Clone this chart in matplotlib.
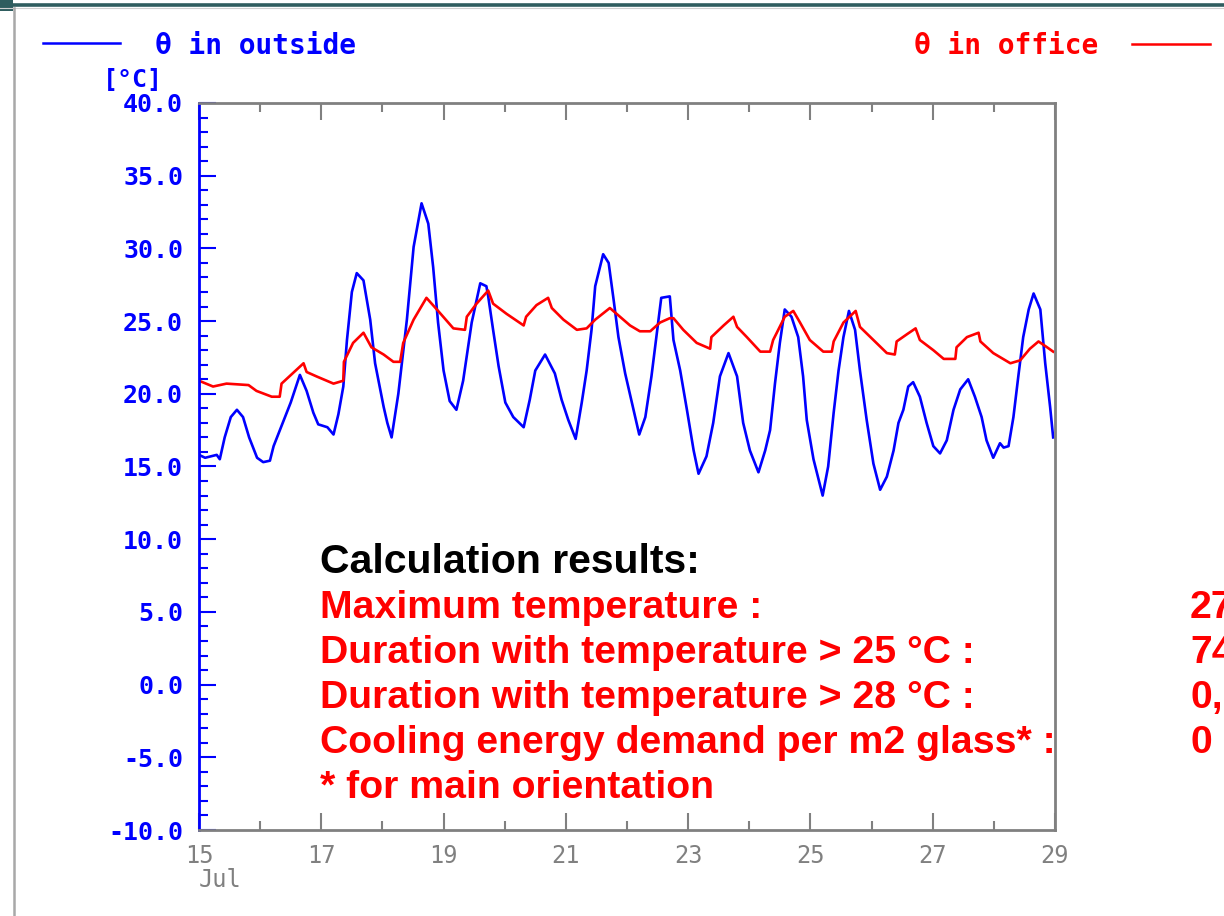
import matplotlib
matplotlib.use('Agg')
import matplotlib.pyplot as plt
from matplotlib.lines import Line2D
from matplotlib.patches import Rectangle
from matplotlib.ticker import MultipleLocator, FormatStrFormatter

plt.rcParams['font.family'] = ['DejaVu Sans Mono', 'DejaVu Sans']
plt.rcParams['axes.unicode_minus'] = False

BLUE = '#0000ff'
RED = '#ff0000'
GRAY = '#808080'

# outside temperature (day of July, degC), turning points
out_days = [15.00, 15.10, 15.29, 15.34, 15.42, 15.52, 15.62, 15.72, 15.82, 15.95,
            16.05, 16.16, 16.22, 16.35, 16.50, 16.65, 16.76, 16.87, 16.95, 17.10,
            17.20, 17.28, 17.36, 17.42, 17.50, 17.58, 17.69, 17.80, 17.88, 18.02,
            18.08, 18.15, 18.26, 18.40, 18.51, 18.64, 18.75, 18.83, 18.91, 19.00,
            19.10, 19.21, 19.32, 19.46, 19.60, 19.70, 19.73, 19.81, 19.90, 20.01,
            20.14, 20.31, 20.41, 20.50, 20.66, 20.82, 20.93, 21.04, 21.16, 21.26,
            21.34, 21.42, 21.48, 21.61, 21.70, 21.78, 21.86, 21.97, 22.08, 22.20,
            22.30, 22.40, 22.48, 22.56, 22.70, 22.76, 22.87, 22.98, 23.09, 23.17,
            23.30, 23.41, 23.52, 23.66, 23.80, 23.90, 24.01, 24.15, 24.26, 24.34,
            24.42, 24.50, 24.58, 24.69, 24.80, 24.88, 24.94, 25.05, 25.20, 25.29,
            25.38, 25.46, 25.54, 25.63, 25.73, 25.81, 25.92, 26.03, 26.14, 26.25,
            26.36, 26.44, 26.52, 26.60, 26.68, 26.79, 26.90, 27.01, 27.12, 27.23,
            27.34, 27.45, 27.58, 27.69, 27.80, 27.88, 27.99, 28.10, 28.16, 28.24,
            28.32, 28.40, 28.48, 28.57, 28.65, 28.76, 28.84, 28.92, 28.97]
out_temp = [15.8, 15.6, 15.8, 15.5, 17.0, 18.4, 18.9, 18.4, 17.0, 15.6,
            15.3, 15.4, 16.4, 17.8, 19.4, 21.3, 20.2, 18.7, 17.9, 17.7,
            17.2, 18.6, 20.5, 23.7, 27.0, 28.3, 27.8, 25.1, 22.1, 19.1,
            18.0, 17.0, 20.0, 25.1, 30.1, 33.1, 31.7, 28.7, 24.9, 21.6,
            19.5, 18.9, 20.9, 24.9, 27.6, 27.4, 26.7, 24.4, 21.9, 19.4,
            18.4, 17.7, 19.6, 21.6, 22.7, 21.4, 19.6, 18.2, 16.9, 19.4,
            21.6, 24.4, 27.4, 29.6, 29.0, 26.5, 23.9, 21.4, 19.4, 17.2,
            18.4, 21.2, 23.9, 26.6, 26.7, 23.7, 21.6, 18.9, 16.1, 14.5,
            15.7, 18.0, 21.2, 22.8, 21.2, 18.0, 16.1, 14.6, 16.1, 17.5,
            20.7, 23.5, 25.8, 25.3, 23.9, 21.2, 18.2, 15.5, 13.0, 15.0,
            18.7, 21.6, 23.9, 25.7, 24.4, 21.6, 18.2, 15.2, 13.4, 14.3,
            16.1, 18.0, 18.9, 20.5, 20.8, 19.8, 18.0, 16.4, 15.9, 16.8,
            18.9, 20.3, 21.0, 19.8, 18.4, 16.8, 15.6, 16.6, 16.3, 16.4,
            18.4, 21.2, 23.9, 25.8, 26.9, 25.8, 22.1, 19.1, 17.0]

# office temperature
off_days = [15.00, 15.23, 15.45, 15.81, 15.94, 16.19, 16.32, 16.35, 16.71, 16.76,
            16.92, 17.20, 17.36, 17.37, 17.52, 17.69, 17.82, 18.02, 18.18, 18.29,
            18.34, 18.51, 18.72, 18.89, 19.16, 19.35, 19.38, 19.54, 19.73, 19.81,
            20.03, 20.31, 20.35, 20.52, 20.71, 20.77, 20.96, 21.18, 21.34, 21.48,
            21.72, 21.83, 22.05, 22.21, 22.38, 22.54, 22.70, 22.76, 22.92, 23.14,
            23.36, 23.38, 23.58, 23.74, 23.80, 23.96, 24.18, 24.34, 24.39, 24.45,
            24.58, 24.72, 24.83, 24.99, 25.21, 25.35, 25.38, 25.54, 25.74, 25.81,
            26.03, 26.25, 26.38, 26.41, 26.58, 26.72, 26.79, 27.01, 27.18, 27.37,
            27.39, 27.56, 27.75, 27.78, 27.99, 28.27, 28.43, 28.59, 28.73, 28.87,
            28.97]
off_temp = [20.9, 20.5, 20.7, 20.6, 20.2, 19.8, 19.8, 20.7, 22.1, 21.5,
            21.2, 20.7, 20.9, 22.2, 23.5, 24.2, 23.2, 22.7, 22.2, 22.2,
            23.5, 25.1, 26.6, 25.8, 24.5, 24.4, 25.3, 26.2, 27.1, 26.2,
            25.5, 24.7, 25.3, 26.1, 26.6, 25.9, 25.1, 24.4, 24.5, 25.1,
            25.9, 25.5, 24.7, 24.3, 24.3, 24.9, 25.2, 25.2, 24.4, 23.5,
            23.1, 23.9, 24.7, 25.3, 24.6, 23.9, 22.9, 22.9, 23.7, 24.2,
            25.3, 25.7, 24.9, 23.7, 22.9, 22.9, 23.6, 24.9, 25.7, 24.6,
            23.7, 22.8, 22.7, 23.6, 24.1, 24.5, 23.7, 23.0, 22.4, 22.4,
            23.2, 23.9, 24.2, 23.6, 22.8, 22.1, 22.3, 23.1, 23.6, 23.2,
            22.9]

x_ticks = [15, 17, 19, 21, 23, 25, 27, 29]
x_labels = ['15', '17', '19', '21', '23', '25', '27', '29']

result_labels = ['Maximum temperature :',
                 'Duration with temperature > 25 °C :',
                 'Duration with temperature > 28 °C :',
                 'Cooling energy demand per m2 glass* :']
# only the first characters are visible, the rest runs off the slide
result_values = ['27', '74', '0,', '0']

W, H = 1224, 916


def fx(px):
    return px / W


def fy(py):
    return 1 - py / H


fig = plt.figure(figsize=(W / 100, H / 100), dpi=100)
fig.patch.set_facecolor('white')

# slide frame bits
fig.add_artist(Line2D([0, 1], [fy(4.5), fy(4.5)], color='#2f5d5f', lw=2.6))
fig.add_artist(Line2D([0, 1], [fy(7.5), fy(7.5)], color='#d0d0d0', lw=0.8))
fig.add_artist(Rectangle((0, fy(11)), fx(13), 11 / H, color='#2f5d5f', lw=0))
fig.add_artist(Line2D([fx(13.5), fx(13.5)], [0, fy(8)], color='#a8a8a8', lw=1.8))

ax = fig.add_axes([fx(199), fy(830), (1055 - 199) / W, (830 - 103) / H])
ax.plot(out_days, out_temp, color=BLUE, lw=1.9)
ax.plot(off_days, off_temp, color=RED, lw=1.9)

ax.set_xlim(15, 29)
ax.set_ylim(-10, 40)
ax.set_xticks(x_ticks)
ax.set_xticklabels(x_labels)
ax.xaxis.set_minor_locator(MultipleLocator(1))
ax.yaxis.set_major_locator(MultipleLocator(5))
ax.yaxis.set_minor_locator(MultipleLocator(1))
ax.yaxis.set_major_formatter(FormatStrFormatter('%.1f'))

ax.tick_params(axis='x', which='both', direction='in', top=True, bottom=True,
               color=GRAY, labelcolor=GRAY, width=1.5)
ax.tick_params(axis='x', which='major', length=12, pad=10, labelsize=17)
ax.tick_params(axis='x', which='minor', length=6.5)
ax.tick_params(axis='y', which='both', direction='in', left=True, right=False,
               color=BLUE, labelcolor=BLUE, width=1.5)
ax.tick_params(axis='y', which='major', length=12, pad=11.5, labelsize=18)
ax.tick_params(axis='y', which='minor', length=6.5)
for lab in ax.get_yticklabels():
    lab.set_fontweight('bold')

for side in ['top', 'right', 'bottom']:
    ax.spines[side].set_color(GRAY)
    ax.spines[side].set_linewidth(2)
ax.spines['left'].set_color(BLUE)
ax.spines['left'].set_linewidth(2)

ax.text(15, -0.052, 'Jul', transform=ax.get_xaxis_transform(), ha='left', va='top',
        color=GRAY, fontsize=17)
fig.text(fx(103), fy(80), '[°C]', color=BLUE, fontsize=18, weight='bold',
         ha='left', va='center')

# legend-like headers
fig.add_artist(Line2D([fx(43), fx(120)], [fy(43), fy(43)], color=BLUE, lw=1.8))
fig.text(fx(155), fy(46), 'θ in outside', color=BLUE, fontsize=20, weight='bold',
         ha='left', va='center')
fig.add_artist(Line2D([fx(1132), fx(1210)], [fy(44), fy(44)], color=RED, lw=1.8))
fig.text(fx(1098), fy(46), 'θ in office', color=RED, fontsize=20, weight='bold',
         ha='right', va='center')

# calculation results block
sans = ['Liberation Sans', 'DejaVu Sans']
fig.text(fx(320), fy(573), 'Calculation results:', color='black', fontsize=29.5,
         weight='bold', family=sans, ha='left', va='baseline')
for i, (lab, val) in enumerate(zip(result_labels, result_values)):
    yb = 618 + 45 * i
    fig.text(fx(320), fy(yb), lab, color=RED, fontsize=28.3, weight='bold',
             family=sans, ha='left', va='baseline')
    fig.text(fx(1190), fy(yb), val, color=RED, fontsize=28.3, weight='bold',
             family=sans, ha='left', va='baseline')
fig.text(fx(320), fy(798), '* for main orientation', color=RED, fontsize=28.3,
         weight='bold', family=sans, ha='left', va='baseline')

fig.savefig('out.png', dpi=100)
